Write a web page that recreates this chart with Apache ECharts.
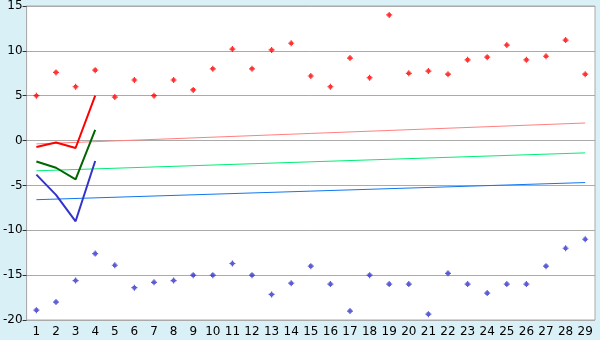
<!DOCTYPE html>
<html><head><meta charset="utf-8">
<script src="https://cdn.jsdelivr.net/npm/echarts@6/dist/echarts.min.js"></script>
<style>html,body{margin:0;padding:0;background:#daf0f7;}#c{width:600px;height:340px;}</style>
</head><body><div id="c"></div>
<script>
var categories = ['1','2','3','4','5','6','7','8','9','10','11','12','13','14','15','16','17','18','19','20','21','22','23','24','25','26','27','28','29'];
var redPoints = [5.0,7.6,6.0,7.85,4.85,6.75,5.0,6.75,5.65,8.0,10.2,8.0,10.1,10.85,7.2,6.0,9.2,7.0,14.0,7.5,7.75,7.4,9.0,9.3,10.65,9.0,9.4,11.2,7.4];
var bluePoints = [-18.9,-18.0,-15.6,-12.6,-13.9,-16.4,-15.8,-15.6,-15.0,-15.0,-13.7,-15.0,-17.15,-15.9,-14.0,-16.0,-19.0,-15.0,-16.0,-16.0,-19.35,-14.8,-16.0,-17.0,-16.0,-16.0,-14.0,-12.0,-11.0];
var redLine = [-0.72,-0.22,-0.83,5.0];
var greenLine = [-2.33,-3.03,-4.33,1.2];
var blueLine = [-3.8,-6.05,-9.0,-2.28];
var pinkTrend = [-0.37,1.96];
var greenTrend = [-3.37,-1.37];
var blueTrend = [-6.59,-4.68];
var yTicks = {min:-20,max:15,interval:5};

function pad(arr){var out=[];for(var i=0;i<categories.length;i++){out.push(i<arr.length?arr[i]:null);}return out;}
function ends(arr){var out=[];for(var i=0;i<categories.length;i++){out.push(i===0?arr[0]:(i===categories.length-1?arr[1]:null));}return out;}
var star='path://M2,0L3,0L3,1L4,1L4,2L5,2L5,3L4,3L4,4L3,4L3,5L2,5L2,4L1,4L1,3L0,3L0,2L1,2L1,1L2,1Z';
var font='DejaVu Sans';
var chart=echarts.init(document.getElementById('c'),null,{renderer:'canvas'});
chart.setOption({
  animation:false,
  backgroundColor:'#daf0f7',
  grid:{left:26,right:5,top:5,bottom:20,show:true,backgroundColor:'#ffffff',borderColor:'#aaaaaa',borderWidth:1},
  xAxis:{type:'category',data:categories,boundaryGap:true,
    axisLine:{lineStyle:{color:'#aaaaaa'}},
    axisTick:{alignWithLabel:true,length:4,lineStyle:{color:'#333333'}},
    axisLabel:{color:'#000',fontFamily:font,fontSize:12,margin:6,interval:0},
    splitLine:{show:false}},
  yAxis:{type:'value',min:yTicks.min,max:yTicks.max,interval:yTicks.interval,
    axisLine:{show:true,lineStyle:{color:'#aaaaaa'}},
    axisTick:{show:true,length:4,lineStyle:{color:'#333333'}},
    axisLabel:{color:'#000',fontFamily:font,fontSize:12,margin:4},
    splitLine:{lineStyle:{color:'#aaaaaa',width:1}}},
  series:[
    {type:'line',data:ends(pinkTrend),connectNulls:true,symbol:'none',lineStyle:{color:'#ff8080',width:1}},
    {type:'line',data:ends(greenTrend),connectNulls:true,symbol:'none',lineStyle:{color:'#00ee77',width:1}},
    {type:'line',data:ends(blueTrend),connectNulls:true,symbol:'none',lineStyle:{color:'#1177ee',width:1}},
    {type:'line',data:pad(redLine),symbol:'none',lineStyle:{color:'#ff0000',width:2}},
    {type:'line',data:pad(greenLine),symbol:'none',lineStyle:{color:'#006600',width:2}},
    {type:'line',data:pad(blueLine),symbol:'none',lineStyle:{color:'#3333cc',width:2}},
    {type:'scatter',data:redPoints,symbol:star,symbolSize:6,itemStyle:{color:'#ff0000'}},
    {type:'scatter',data:bluePoints,symbol:star,symbolSize:6,itemStyle:{color:'#3333cc'}}
  ]
});
</script></body></html>
